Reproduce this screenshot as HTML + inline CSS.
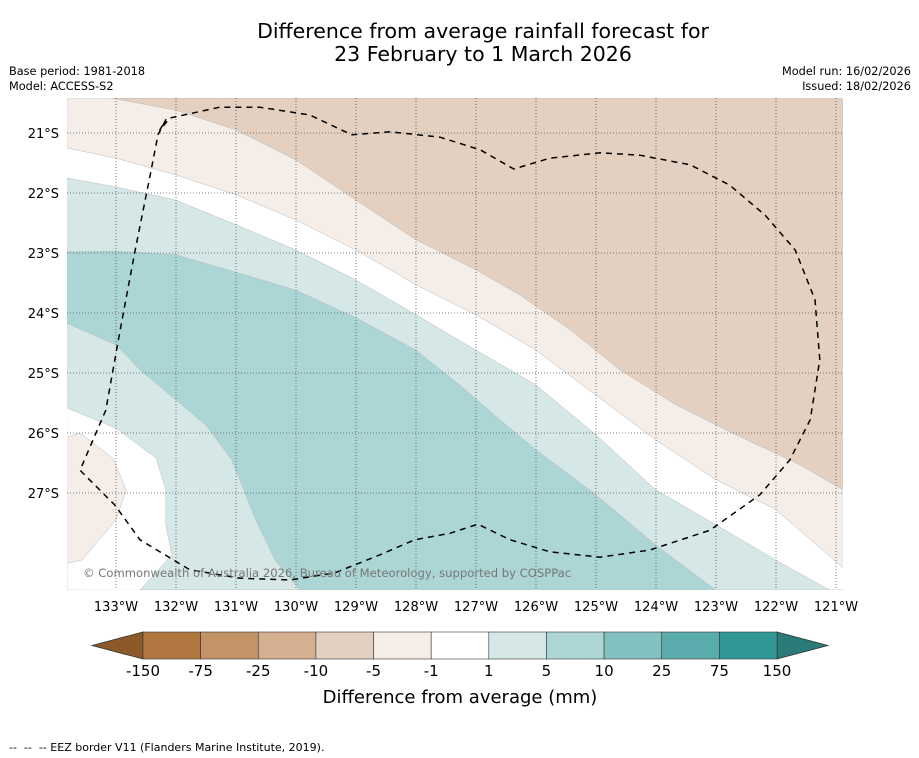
<!DOCTYPE html>
<html><head><meta charset="utf-8">
<style>
body{margin:0;background:#fff;width:919px;height:758px;overflow:hidden;font-family:"DejaVu Sans","Liberation Sans",sans-serif;}
svg{position:absolute;left:0;top:0}
</style></head>
<body>
<svg id="chart" width="919" height="758" viewBox="0 0 919 758">
<text x="483" y="38" text-anchor="middle" font-size="20.5">Difference from average rainfall forecast for</text>
<text x="483" y="61" text-anchor="middle" font-size="20.5">23 February to 1 March 2026</text>
<text x="9" y="75" font-size="11.3">Base period: 1981-2018</text>
<text x="9" y="90" font-size="11.3">Model: ACCESS-S2</text>
<text x="911" y="75" font-size="11.3" text-anchor="end">Model run: 16/02/2026</text>
<text x="911" y="90" font-size="11.3" text-anchor="end">Issued: 18/02/2026</text>
<g id="map"></g>
<g id="cbar"></g>
<text x="460" y="703" text-anchor="middle" font-size="18">Difference from average (mm)</text>
<text x="9" y="751" font-size="11" xml:space="preserve">--  --  -- EEZ border V11 (Flanders Marine Institute, 2019).</text>
</svg>
<script>
const lonTicks=[133,132,131,130,129,128,127,126,125,124,123,122,121];
const latTicks=[21,22,23,24,25,26,27];
const cbLevels=["-150","-75","-25","-10","-5","-1","1","5","10","25","75","150"];
const cbColors=["#b07840","#c29468","#d4b090","#e3d0c0","#f4ede8","#ffffff","#d5e8e7","#acd5d5","#83c1c0","#5aabab","#329896"];
// contour boundaries as [lonW, latS]
const bndA=[[133.07,20.42],[132,20.62],[131,20.95],[130,21.45],[129,22.12],[128,22.78],[127,23.28],[126.27,23.7],[125.43,24.28],[124.6,24.95],[123.67,25.53],[122.67,26.03],[121.6,26.53],[120.88,26.95]];
const bndB=[[133.82,21.25],[133,21.42],[132,21.7],[131,22.03],[130,22.45],[129,22.95],[128,23.53],[127,24.03],[126,24.62],[125,25.37],[124,26.12],[123,26.78],[122,27.28],[120.88,28.25]];
const bndC=[[133.82,21.75],[133,21.9],[132,22.12],[131,22.53],[130,22.95],[129,23.45],[128,24.03],[127,24.62],[126,25.2],[125,26.03],[124,26.95],[123,27.53],[122,28.12],[121.1,28.62]];
const bndD=[[133.82,22.98],[133,22.97],[132,23.03],[131,23.32],[130,23.62],[129,24.08],[128,24.62],[127.27,25.2],[126.6,25.78],[126,26.28],[125,27.03],[124,27.87],[123,28.62]];
const bndE=[[133.82,24.17],[133,24.53],[132.6,24.95],[132,25.45],[131.5,25.87],[131.07,26.45],[130.67,27.45],[130.35,28.12],[129.93,28.62]];
const bndF=[[133.82,25.58],[133,25.92],[132.33,26.42],[132.17,26.95],[132.17,27.53],[132.07,28.03],[132.6,28.62]];
const blob=[[133.82,26.07],[133.6,26.0],[133.05,26.42],[132.83,26.95],[133,27.45],[133.57,28.12],[133.82,28.17]];
const eez=[[132.17,20.78],[132.3,21.03],[132.43,21.7],[132.68,22.95],[132.93,24.28],[133.17,25.62],[133.6,26.62],[133.02,27.2],[132.6,27.78],[131.77,28.28],[130.93,28.42],[130.1,28.45],[129.35,28.33],[128.6,28.03],[128.02,27.78],[127.43,27.67],[126.97,27.52],[126.43,27.78],[125.77,27.98],[124.93,28.07],[124.1,27.95],[123.1,27.62],[122.27,27.03],[121.77,26.45],[121.43,25.78],[121.27,24.78],[121.35,23.78],[121.68,22.95],[122.18,22.37],[122.77,21.87],[123.43,21.53],[124.27,21.37],[124.93,21.33],[125.77,21.42],[126.37,21.6],[126.93,21.28],[127.6,21.07],[128.43,20.98],[129.07,21.03],[129.77,20.7],[130.6,20.57],[131.27,20.57],[132.1,20.75],[132.27,20.95]];
const NS="http://www.w3.org/2000/svg";
const X0=67,X1=843,Y0=98,Y1=590;
function px(lon){return 116+(133-lon)*60.0;}
function py(lat){return 133+(lat-21)*60.0;}
function pts(a){return a.map(p=>px(p[0]).toFixed(1)+","+py(p[1]).toFixed(1)).join(" ");}
function mk(tag,attrs,parent){const e=document.createElementNS(NS,tag);for(const k in attrs)e.setAttribute(k,attrs[k]);parent.appendChild(e);return e;}
const map=document.getElementById('map');
const defs=mk('defs',{},map);
const cp=mk('clipPath',{id:'clip'},defs);
mk('rect',{x:X0,y:Y0,width:X1-X0,height:Y1-Y0},cp);
const g=mk('g',{'clip-path':'url(#clip)'},map);
let r=mk('rect',{x:X0,y:Y0,width:X1-X0,height:Y1-Y0,fill:'#ffffff'},g);


function band(p,color,name){const e=mk('polygon',{points:p,fill:color,stroke:'#bbbbbb','stroke-width':0.5},g);

}
band(pts(bndC)+` ${X1},${Y1} ${X0},${Y1}`,cbColors[6],'band-1-to-5');
band(pts(bndD)+` ${X0},${Y1} `+pts(bndE.slice().reverse()),cbColors[7],'band-5-to-10');
band(pts(bndF)+` ${X0},${Y1}`,cbColors[5],'band-white-southwest');
band(pts(blob),cbColors[4],'band-dry-southwest');
band(pts(bndB)+` ${X1},${Y0} ${X0},${Y0}`,cbColors[4],'band-minus5-to-minus1');
band(pts(bndA)+` ${X1},${Y0}`,cbColors[3],'band-minus10-to-minus5');
// grid
lonTicks.forEach((lon,i)=>{const x=px(lon);
const l=mk('line',{x1:x,x2:x,y1:Y0,y2:Y1,stroke:'#555','stroke-width':0.8,'stroke-dasharray':'1,2'},map);


const t=mk('text',{x:x,y:611,'text-anchor':'middle','font-size':13},map);t.textContent=lon+"°W";

});
latTicks.forEach(lat=>{const y=py(lat);
const l=mk('line',{x1:X0,x2:X1,y1:y,y2:y,stroke:'#555','stroke-width':0.8,'stroke-dasharray':'1,2'},map);


const t=mk('text',{x:59,y:y+5,'text-anchor':'end','font-size':13},map);t.textContent=lat+"°S";

});
const ez=mk('polygon',{points:pts(eez),fill:'none',stroke:'#000','stroke-width':1.5,'stroke-dasharray':'6,5','stroke-linejoin':'round'},map);


const cr=mk('text',{x:83,y:577,'font-size':11.6,fill:'#777'},map);cr.textContent="© Commonwealth of Australia 2026, Bureau of Meteorology, supported by COSPPac";


// colorbar
const cb=document.getElementById('cbar');
const CX0=143,CX1=777,CY0=632,CY1=659,w=(CX1-CX0)/cbColors.length;
const lt=mk('polygon',{points:`${CX0},${CY0} 92,${(CY0+CY1)/2} ${CX0},${CY1}`,fill:'#8c5a28',stroke:'#333','stroke-width':0.8},cb);


const rt=mk('polygon',{points:`${CX1},${CY0} 828,${(CY0+CY1)/2} ${CX1},${CY1}`,fill:'#2a7a78',stroke:'#333','stroke-width':0.8},cb);


cbColors.forEach((c,i)=>{const b=mk('rect',{x:CX0+i*w,y:CY0,width:w,height:CY1-CY0,fill:c,stroke:'#333','stroke-width':0.6},cb);

});
cbLevels.forEach((s,i)=>{const t=mk('text',{x:CX0+i*w,y:676,'text-anchor':'middle','font-size':15},cb);t.textContent=s;

});
</script>
</body></html>
